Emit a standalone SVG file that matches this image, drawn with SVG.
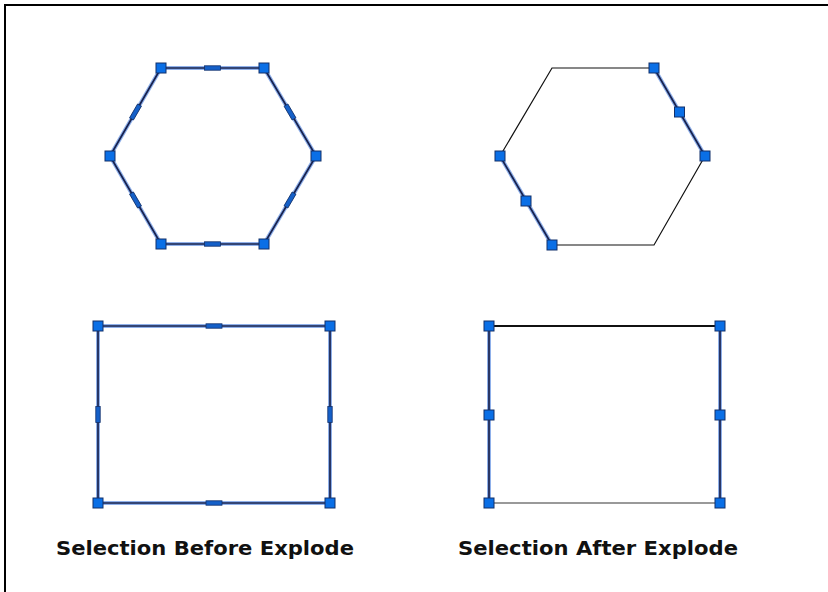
<svg xmlns="http://www.w3.org/2000/svg" width="828" height="592" viewBox="0 0 828 592">
<defs>
<style>
.glow{fill:none;stroke:#8fb0ea;stroke-width:4;stroke-linejoin:round;stroke-linecap:round}
.sel{fill:none;stroke:#17224f;stroke-width:1.7;stroke-linejoin:round}
.thin{fill:none;stroke:#111;stroke-width:1.2}
.grey{fill:none;stroke:#777;stroke-width:1.4}
.grip{fill:#0a6fe6;stroke:#12306a;stroke-width:1}
.mid{fill:#1560c8;stroke:#12306a;stroke-width:0.8}
.lbl{font-family:"DejaVu Sans",Verdana,sans-serif;font-weight:bold;font-size:20px;fill:#111;text-anchor:middle}
</style>
<rect id="g" class="grip" x="-5" y="-5" width="10" height="10"/>
<rect id="m" class="mid" x="-8" y="-2.2" width="16" height="4.4"/>
</defs>
<rect width="828" height="592" fill="#fff"/>
<path d="M5,592 V5 H828" fill="none" stroke="#000" stroke-width="2"/>
<g id="connectors"/>
<g id="hex-before">
<polygon class="glow" points="161,68 264,68 316,156 264,244 161,244 110,156"/>
<polygon class="sel" points="161,68 264,68 316,156 264,244 161,244 110,156"/>
<use href="#m" transform="translate(212.5,68)"/>
<use href="#m" transform="translate(212.5,244)"/>
<use href="#m" transform="translate(290,112) rotate(59.6)"/>
<use href="#m" transform="translate(290,200) rotate(-59.6)"/>
<use href="#m" transform="translate(135.5,112) rotate(-59.9)"/>
<use href="#m" transform="translate(135.5,200) rotate(59.9)"/>
<use href="#g" x="161" y="68"/>
<use href="#g" x="264" y="68"/>
<use href="#g" x="316" y="156"/>
<use href="#g" x="264" y="244"/>
<use href="#g" x="161" y="244"/>
<use href="#g" x="110" y="156"/>
</g>
<g id="hex-after">
<polyline class="thin" points="654,68 552,68 500,156"/>
<polyline class="thin" points="705,156 654,245 552,245"/>
<line class="glow" x1="654" y1="68" x2="705" y2="156"/>
<line class="sel" x1="654" y1="68" x2="705" y2="156"/>
<line class="glow" x1="500" y1="156" x2="552" y2="245"/>
<line class="sel" x1="500" y1="156" x2="552" y2="245"/>
<use href="#g" x="654" y="68"/>
<use href="#g" x="679.5" y="112"/>
<use href="#g" x="705" y="156"/>
<use href="#g" x="500" y="156"/>
<use href="#g" x="526" y="201"/>
<use href="#g" x="552" y="245"/>
</g>
<g id="rect-before">
<rect class="glow" x="98" y="326" width="232" height="177"/>
<rect class="sel" x="98" y="326" width="232" height="177"/>
<use href="#m" transform="translate(214,326)"/>
<use href="#m" transform="translate(214,503)"/>
<use href="#m" transform="translate(98,414.5) rotate(90)"/>
<use href="#m" transform="translate(330,414.5) rotate(90)"/>
<use href="#g" x="98" y="326"/>
<use href="#g" x="330" y="326"/>
<use href="#g" x="330" y="503"/>
<use href="#g" x="98" y="503"/>
</g>
<g id="rect-after">
<line x1="489" y1="326" x2="720" y2="326" stroke="#111" stroke-width="1.8"/>
<line class="grey" x1="489" y1="503" x2="720" y2="503"/>
<line class="glow" x1="489" y1="326" x2="489" y2="503"/>
<line class="sel" x1="489" y1="326" x2="489" y2="503" stroke-width="2"/>
<line class="glow" x1="720" y1="326" x2="720" y2="503"/>
<line class="sel" x1="720" y1="326" x2="720" y2="503" stroke-width="2"/>
<use href="#g" x="489" y="326"/>
<use href="#g" x="720" y="326"/>
<use href="#g" x="489" y="415"/>
<use href="#g" x="720" y="415"/>
<use href="#g" x="489" y="503"/>
<use href="#g" x="720" y="503"/>
</g>
<g id="labels">
<text class="lbl" x="205" y="555" textLength="298" lengthAdjust="spacingAndGlyphs">Selection Before Explode</text>
<text class="lbl" x="598" y="555" textLength="280" lengthAdjust="spacingAndGlyphs">Selection After Explode</text>
</g>
</svg>
